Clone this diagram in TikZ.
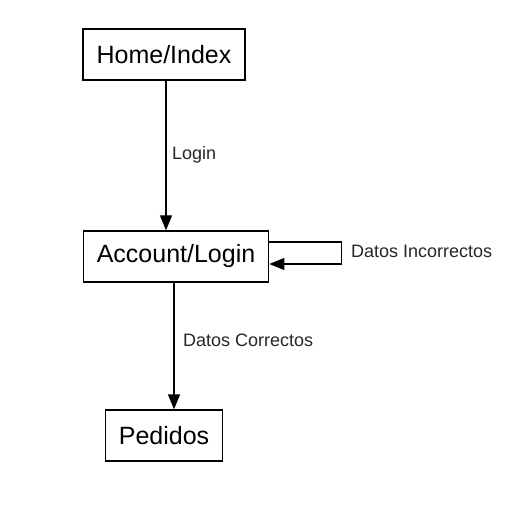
\documentclass[tikz,border=0pt]{standalone}
\usepackage{fontspec}
\setmainfont{Liberation Sans}
\usetikzlibrary{arrows.meta, positioning, calc}
\tikzset{
  page/.style={
    rectangle, inner xsep=13.5pt, minimum height=51pt,
    text centered, draw=black, line width=1.3pt, font=\fontsize{25}{30}\selectfont
  },
  link/.style={
    -{Triangle[length=15pt,width=12pt]}, line width=1.3pt, color=black
  },
  lbl/.style={
    font=\fontsize{18}{22}\selectfont, text=black!85, inner sep=0pt, anchor=west
  }
}
\begin{document}
\begin{tikzpicture}[x=1pt, y=-1pt]
    \useasboundingbox (0,0) rectangle (512,508);

    % Pages
    \node[page] (home) at (164,54.5) {Home/Index};
    \node[page] (acc) at (176,256.5) {Account/Login};
    \node[page] (ped) at (164,435.5) {Pedidos};

    % Login flow
    \draw[link] ([xshift=2pt]home.south) -- ([xshift=2pt]home.south |- acc.north);
    \node[lbl] (login) at (172,154.5) {Login};

    % Wrong credentials go back to the login page
    \coordinate (loopa) at ($(acc.east)+(72,-14.5)$);
    \coordinate (loopb) at ($(acc.east)+(72,7.5)$);
    \draw[link] ($(acc.east)+(0,-14.5)$) -- (loopa) -- (loopb) -- ($(acc.east)+(0,7.5)$);
    \node[lbl] (bad) at (351,251.5) {Datos Incorrectos};

    % Right credentials
    \draw[link] ([xshift=-2pt]acc.south) -- ([xshift=-2pt]acc.south |- ped.north);
    \node[lbl] (good) at (183,340.5) {Datos Correctos};
\end{tikzpicture}
\end{document}
